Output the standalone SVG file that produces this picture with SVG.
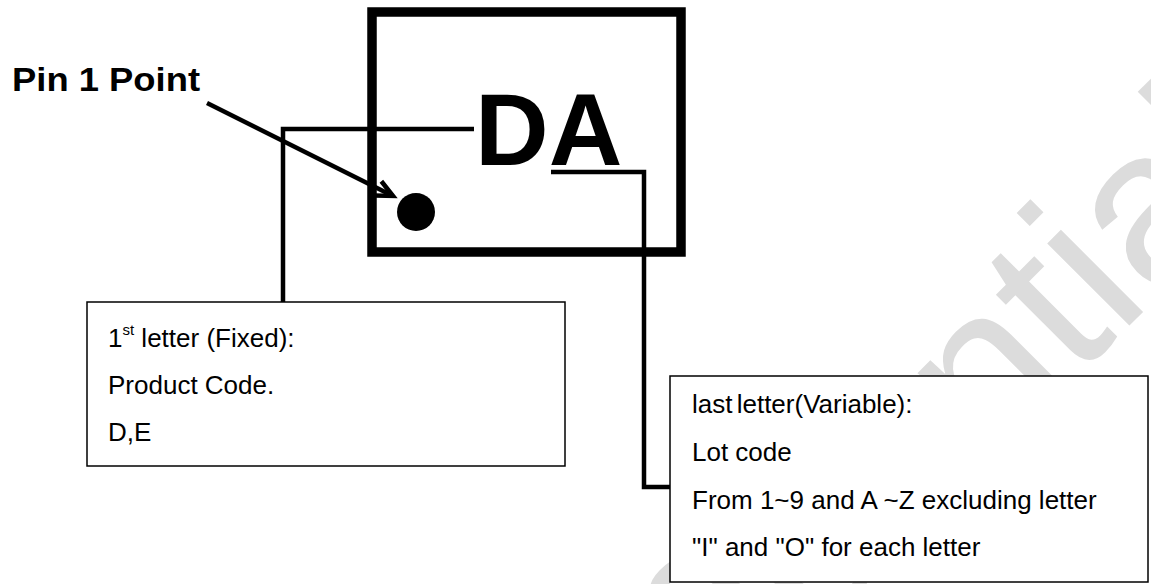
<svg xmlns="http://www.w3.org/2000/svg" width="1151" height="584" viewBox="0 0 1151 584">
  <style>
    .body { font-family: "Liberation Sans", Arial, sans-serif; font-size: 26px; fill: #000; }
    .bold { font-family: "Liberation Sans", Arial, sans-serif; font-weight: bold; fill: #000; }
    .box { fill: #fff; stroke: #000; stroke-width: 1.5; }
    .conn { fill: none; stroke: #000; stroke-width: 4.5; stroke-linejoin: miter; stroke-linecap: butt; }
    .wm { font-family: "Liberation Sans", Arial, sans-serif; font-size: 220px; fill: #dcdcdc; }
  </style>
  <defs>
    <marker id="openArrow" markerUnits="userSpaceOnUse" markerWidth="30" markerHeight="30" refX="0" refY="0" viewBox="-20 -15 30 30" orient="auto">
      <path d="M-17,-8 L0,0 L-17,8" fill="none" stroke="#000" stroke-width="4.5" stroke-linejoin="miter" stroke-linecap="butt"/>
    </marker>
  </defs>
  <rect width="1151" height="584" fill="#fff"/>

  <g id="watermark">
    <text class="wm" transform="translate(453,1002) rotate(-45)" x="0" y="0">Confidential</text>
  </g>

  <g id="chip">
    <rect x="372" y="12" width="309" height="240" fill="none" stroke="#000" stroke-width="9.5"/>
    <text class="bold" x="475" y="165" font-size="102">DA</text>
    <circle cx="416" cy="212" r="19" fill="#000"/>
  </g>

  <g id="pin1-label">
    <text class="bold" x="12" y="91" font-size="33" textLength="188" lengthAdjust="spacingAndGlyphs">Pin 1 Point</text>
  </g>

  <g id="first-letter-box">
    <rect class="box" x="87" y="302" width="478" height="164"/>
    <text class="body" x="108" y="347">1<tspan font-size="15" dy="-12">st</tspan><tspan dy="12"> letter (Fixed):</tspan></text>
    <text class="body" x="108" y="394">Product Code.</text>
    <text class="body" x="108" y="441">D,E</text>
  </g>

  <g id="last-letter-box">
    <rect class="box" x="670" y="376" width="478" height="206"/>
    <text class="body" x="692" y="413" word-spacing="-3">last letter(Variable):</text>
    <text class="body" x="692" y="461">Lot code</text>
    <text class="body" x="692" y="509">From 1~9 and A ~Z excluding letter</text>
    <text class="body" x="692" y="556">"I" and "O" for each letter</text>
  </g>

  <g id="connectors">
    <polyline class="conn" points="474,129 283,129 283,302"/>
    <polyline class="conn" points="551,172 644,172 644,487 670,487"/>
    <line class="conn" x1="207" y1="103" x2="393" y2="196" marker-end="url(#openArrow)"/>
  </g>
</svg>
